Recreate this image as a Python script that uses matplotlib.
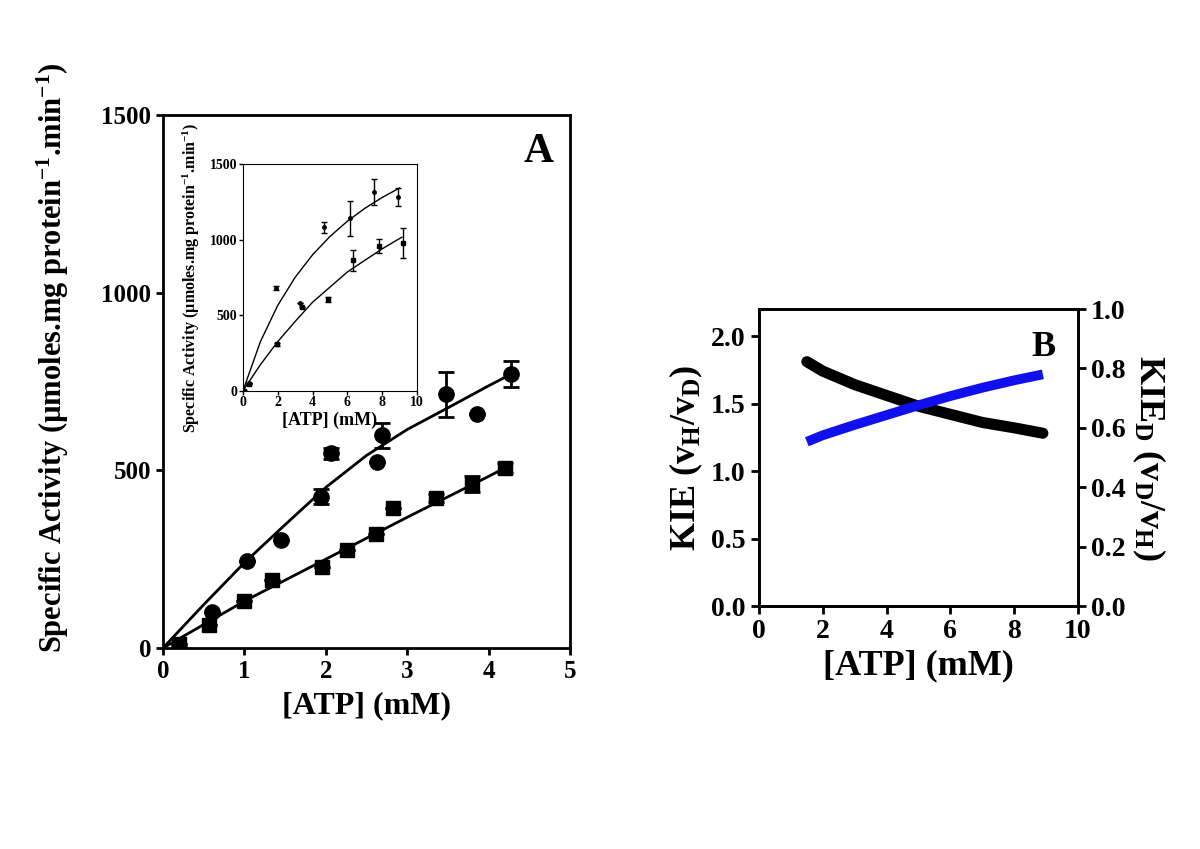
import matplotlib
matplotlib.use("Agg")
import matplotlib.pyplot as plt

plt.rcParams['font.family'] = ['Liberation Serif', 'DejaVu Serif']
plt.rcParams['font.weight'] = 'bold'
plt.rcParams['mathtext.fontset'] = 'custom'
plt.rcParams['mathtext.rm'] = 'Liberation Serif:bold'
plt.rcParams['mathtext.bf'] = 'Liberation Serif:bold'
plt.rcParams['mathtext.it'] = 'Liberation Serif:bold'

# Panel A, main plot: circles (upper) and squares (lower)
circ_x = [0.2, 0.6, 1.03, 1.45, 1.94, 2.07, 2.63, 2.69, 3.48, 3.86, 4.27]
circ_y = [0, 101, 244, 304, 426, 548, 523, 599, 714, 658, 772]
circ_err = [0, 0, 0, 0, 22, 15, 0, 35, 63, 0, 37]
sq_x = [0.2, 0.57, 0.99, 1.34, 1.95, 2.26, 2.62, 2.82, 3.36, 3.80, 4.20]
sq_y = [12, 65, 132, 192, 229, 276, 320, 395, 422, 462, 507]
sq_err = [0, 0, 0, 0, 0, 0, 0, 0, 12, 22, 14]

# fitted curves
fit_circ_x = [0, 0.5, 1, 1.5, 2, 2.5, 3, 3.5, 4, 4.27]
fit_circ_y = [0, 122, 240, 347, 452, 542, 615, 676, 738, 770]
fit_sq_x = [0, 1, 2, 3, 4, 4.2]
fit_sq_y = [0, 132, 250, 368, 483, 507]

# Panel A inset
in_up_x = [0.08, 0.36, 1.92, 3.26, 4.69, 6.17, 7.53, 8.91]
in_up_y = [0, 49, 678, 583, 1082, 1142, 1314, 1281]
in_up_err = [0, 0, 12, 0, 37, 115, 85, 60]
in_lo_x = [0.08, 0.36, 1.95, 3.39, 4.90, 6.32, 7.85, 9.20]
in_lo_y = [0, 44, 309, 552, 605, 862, 959, 979]
in_lo_err = [0, 0, 10, 0, 15, 70, 48, 98]
fit_up_x = [0, 1, 2, 3, 4, 5, 6, 7, 8, 9]
fit_up_y = [0, 324, 565, 750, 899, 1020, 1121, 1206, 1278, 1341]
fit_lo_x = [0, 1, 2, 3, 4, 5, 6, 7, 8, 9.14]
fit_lo_y = [0, 172, 325, 458, 585, 685, 785, 862, 938, 1016]

# Panel B
kie_x = [1.5, 2, 3, 4, 5, 6, 7, 8, 8.9]
kie_y = [1.81, 1.74, 1.64, 1.56, 1.48, 1.42, 1.36, 1.32, 1.28]
kied_x = [1.5, 2, 3, 4, 5, 6, 7, 8, 8.9]
kied_y = [0.553, 0.575, 0.61, 0.643, 0.676, 0.707, 0.735, 0.76, 0.78]

fig = plt.figure(figsize=(12, 8.49), dpi=100)

# ---- Panel A ----
ax = fig.add_axes([0.1358, 0.2367, 0.3392, 0.6278])
ax.plot(fit_circ_x, fit_circ_y, color='black', lw=2)
ax.plot(fit_sq_x, fit_sq_y, color='black', lw=2)
ax.errorbar(circ_x, circ_y, yerr=circ_err, fmt='o', color='black', ms=11,
            capsize=6, elinewidth=2, capthick=2)
ax.errorbar(sq_x, sq_y, yerr=sq_err, fmt='s', color='black', ms=10.5,
            capsize=6, elinewidth=2, capthick=2)
ax.set_xlim(0, 5)
ax.set_ylim(0, 1500)
ax.set_xticks([0, 1, 2, 3, 4, 5])
ax.set_yticks([0, 500, 1000, 1500])
ax.tick_params(direction='out', length=5, width=2, labelsize=18)
for s in ax.spines.values():
    s.set_linewidth(2)
ax.set_xlabel('[ATP] (mM)', fontsize=23, fontweight='bold', labelpad=6)
ax.set_ylabel('Specific Activity (µmoles.mg protein$^{-1}$.min$^{-1}$)',
              fontsize=22, fontweight='bold')
ax.yaxis.set_label_coords(-0.225, 0.545)
ax.text(0.96, 0.93, 'A', transform=ax.transAxes, fontsize=30,
        fontweight='bold', ha='right', va='center')

# ---- inset ----
ai = fig.add_axes([0.2025, 0.5398, 0.1448, 0.267])
ai.plot(fit_up_x, fit_up_y, color='black', lw=1)
ai.plot(fit_lo_x, fit_lo_y, color='black', lw=1)
ai.errorbar(in_up_x, in_up_y, yerr=in_up_err, fmt='o', color='black', ms=2.5,
            capsize=2, elinewidth=1, capthick=1)
ai.errorbar(in_lo_x, in_lo_y, yerr=in_lo_err, fmt='s', color='black', ms=2.5,
            capsize=2, elinewidth=1, capthick=1)
ai.set_xlim(0, 10)
ai.set_ylim(0, 1500)
ai.set_xticks([0, 2, 4, 6, 8, 10])
ai.set_yticks([0, 500, 1000, 1500])
ai.tick_params(direction='out', length=3, width=1, labelsize=10, pad=1)
for s in ai.spines.values():
    s.set_linewidth(0.8)
ai.set_xlabel('[ATP] (mM)', fontsize=13, fontweight='bold', labelpad=2)
ai.set_ylabel('Specific Activity (µmoles.mg protein$^{-1}$.min$^{-1}$)',
              fontsize=11.5, fontweight='bold', labelpad=6)

# ---- Panel B ----
bx = fig.add_axes([0.6325, 0.2862, 0.2658, 0.3498])
bx.plot(kie_x, kie_y, color='black', lw=8, solid_capstyle='round')
bx.set_xlim(0, 10)
bx.set_ylim(0, 2.2)
bx.set_xticks([0, 2, 4, 6, 8, 10])
bx.set_yticks([0, 0.5, 1.0, 1.5, 2.0])
bx.set_yticklabels(['0.0', '0.5', '1.0', '1.5', '2.0'])
bx.tick_params(direction='out', length=6, width=2, labelsize=20)
for s in bx.spines.values():
    s.set_linewidth(2)
bx.set_xlabel('[ATP] (mM)', fontsize=26, fontweight='bold', labelpad=4)
bx.set_ylabel('KIE (v$_{H}$/v$_{D}$)', fontsize=26, fontweight='bold', labelpad=4)
bx.text(0.93, 0.87, 'B', transform=bx.transAxes, fontsize=26,
        fontweight='bold', ha='right', va='center')

br = bx.twinx()
br.plot(kied_x, kied_y, color='#1010ee', lw=7, solid_capstyle='butt')
br.set_ylim(0, 1.0)
br.set_yticks([0, 0.2, 0.4, 0.6, 0.8, 1.0])
br.set_yticklabels(['0.0', '0.2', '0.4', '0.6', '0.8', '1.0'])
br.tick_params(direction='out', length=6, width=2, labelsize=20)
br.set_ylabel('KIE$_{D}$ (v$_{D}$/v$_{H}$)', fontsize=26, fontweight='bold',
              rotation=270, labelpad=30)
for s in br.spines.values():
    s.set_linewidth(2)

fig.savefig('out.png', dpi=100)
